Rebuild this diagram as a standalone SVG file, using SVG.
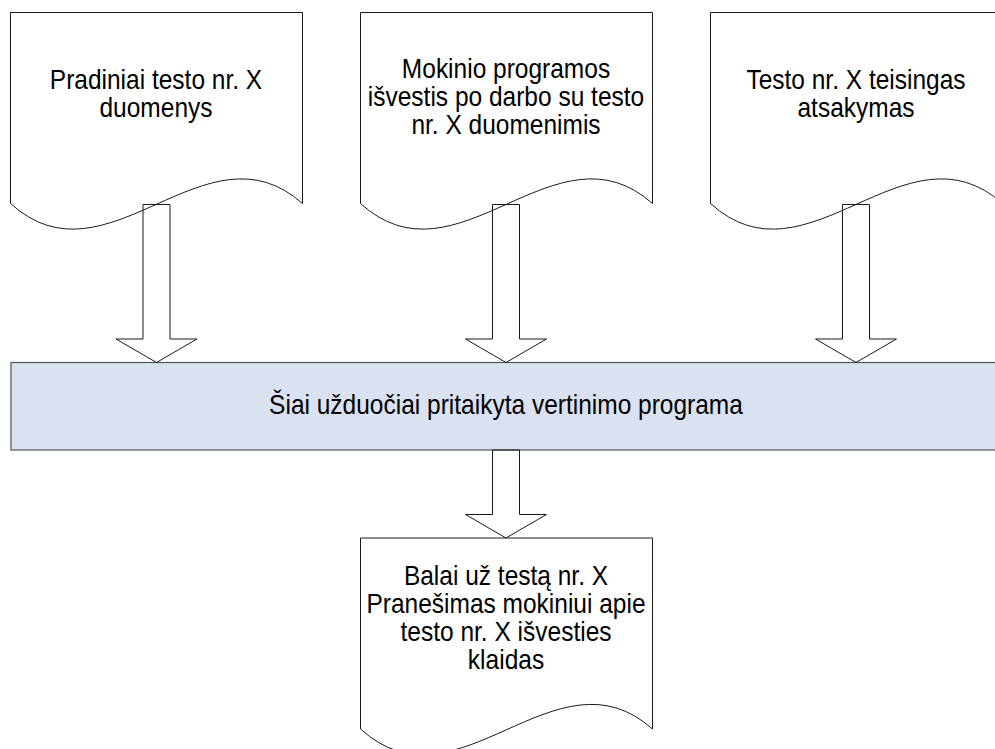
<svg xmlns="http://www.w3.org/2000/svg" width="995" height="749" viewBox="0 0 995 749">
  <defs>
    <!-- document shape: flat top, wavy bottom edge -->
    <path id="docShape" d="M0,191 L0,0 L292,0 L292,191 C195,105 97,279 0,191 Z"/>
    <style>
      .doc { fill: #ffffff; stroke: #1a1a1a; stroke-width: 1; }
      .arrow { fill: none; stroke: #1a1a1a; stroke-width: 1; }
      .band { fill: #dae1f0; stroke: #555555; stroke-width: 1.2; }
      .label { font-family: "Liberation Sans", Arial, sans-serif; font-size: 24.5px; fill: #000000; text-anchor: middle; }
    </style>
  </defs>

  <rect width="995" height="749" fill="#ffffff"/>

  <!-- input documents -->
  <g id="doc-input">
    <use href="#docShape" class="doc" transform="translate(10.5,12.5)"/>
    <text class="label" transform="translate(156,89) scale(1,1.1)">Pradiniai testo nr. X</text>
    <text class="label" transform="translate(156,117) scale(1,1.1)">duomenys</text>
  </g>

  <g id="doc-output">
    <use href="#docShape" class="doc" transform="translate(360.5,12.5)"/>
    <text class="label" transform="translate(506,78) scale(1,1.1)">Mokinio programos</text>
    <text class="label" transform="translate(506,106) scale(1,1.1)">išvestis po darbo su testo</text>
    <text class="label" transform="translate(506,134) scale(1,1.1)">nr. X duomenimis</text>
  </g>

  <g id="doc-answer">
    <use href="#docShape" class="doc" transform="translate(710.5,12.5)"/>
    <text class="label" transform="translate(856,89) scale(1,1.1)">Testo nr. X teisingas</text>
    <text class="label" transform="translate(856,117) scale(1,1.1)">atsakymas</text>
  </g>

  <!-- evaluation program -->
  <g id="checker">
    <rect class="band" x="11" y="362.5" width="992" height="87.5"/>
    <text class="label" transform="translate(506,414) scale(1,1.1)">Šiai užduočiai pritaikyta vertinimo programa</text>
  </g>

  <!-- result document -->
  <g id="doc-result">
    <use href="#docShape" class="doc" transform="translate(360.5,538)"/>
    <text class="label" transform="translate(506,585) scale(1,1.1)">Balai už testą nr. X</text>
    <text class="label" transform="translate(506,613) scale(1,1.1)">Pranešimas mokiniui apie</text>
    <text class="label" transform="translate(506,641) scale(1,1.1)">testo nr. X išvesties</text>
    <text class="label" transform="translate(506,669) scale(1,1.1)">klaidas</text>
  </g>

  <!-- block arrows -->
  <g id="connectors">
    <polygon class="arrow" points="143,204.5 170,204.5 170,339 197,339 156.5,362.5 116,339 143,339"/>
    <polygon class="arrow" points="492.5,204.5 519.5,204.5 519.5,339 546.5,339 506,362.5 465.5,339 492.5,339"/>
    <polygon class="arrow" points="842.5,204.5 869.5,204.5 869.5,339 896.5,339 856,362.5 815.5,339 842.5,339"/>
    <polygon class="arrow" points="492.5,450 519.5,450 519.5,514.5 546.5,514.5 506,538 465.5,514.5 492.5,514.5"/>
  </g>
</svg>
